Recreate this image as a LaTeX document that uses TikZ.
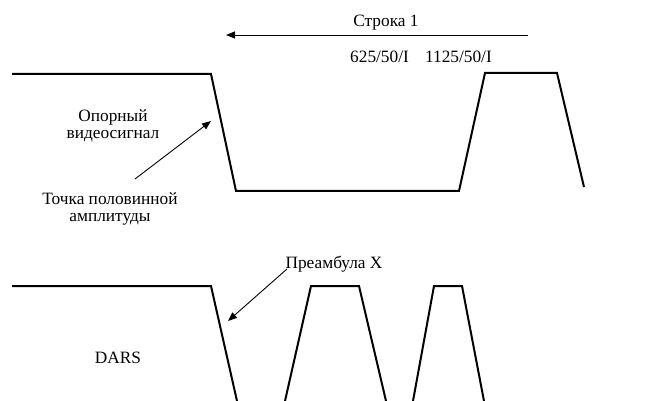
\documentclass[tikz,border=0pt]{standalone}
\usepackage{fontspec}
\setmainfont{Liberation Serif}
\usetikzlibrary{arrows.meta}
\begin{document}
\begin{tikzpicture}[x=1pt,y=-1pt,
  wave/.style={line width=2pt,line join=miter},
  pointer/.style={line width=0.9pt,-{Triangle[length=9pt,width=7pt]}},
  lbl/.style={font=\fontsize{17.3}{16.5}\selectfont,align=center,inner sep=0pt}]
\useasboundingbox (0,0) rectangle (651,401);
% top waveform
\draw[wave] (12,74) -- (211,74) -- (236,191) -- (459,191) -- (485,73) -- (557,73) -- (584,187);
% bottom waveform
\draw[wave] (12,286) -- (211,286) -- (237,401);
\draw[wave] (285,401) -- (311,286) -- (359,286) -- (386,401);
\draw[wave] (413,401) -- (434,286) -- (462,286) -- (484,401);
% labels
\node[lbl,anchor=base] (line1) at (386,27) {Строка 1};
\coordinate (a1s) at (528,35);
\coordinate (a1e) at (226,35);
\draw[pointer] (a1s) -- (a1e);
\node[lbl,anchor=base] (std) at (421,63) {625/50/I\hspace{12pt} 1125/50/I};
\node[lbl] (ref) at (113,126) {Опорный\\видеосигнал};
\node[lbl] (half) at (110,209) {Точка половинной\\амплитуды};
\coordinate (a2s) at (135,179);
\coordinate (a2e) at (211,121);
\draw[pointer] (a2s) -- (a2e);
\node[lbl,anchor=base] (pre) at (334,268) {Преамбула X};
\coordinate (a3s) at (287,269);
\coordinate (a3e) at (228,321);
\draw[pointer] (a3s) -- (a3e);
\node[lbl,anchor=base] (dars) at (118,363) {DARS};
\end{tikzpicture}
\end{document}
